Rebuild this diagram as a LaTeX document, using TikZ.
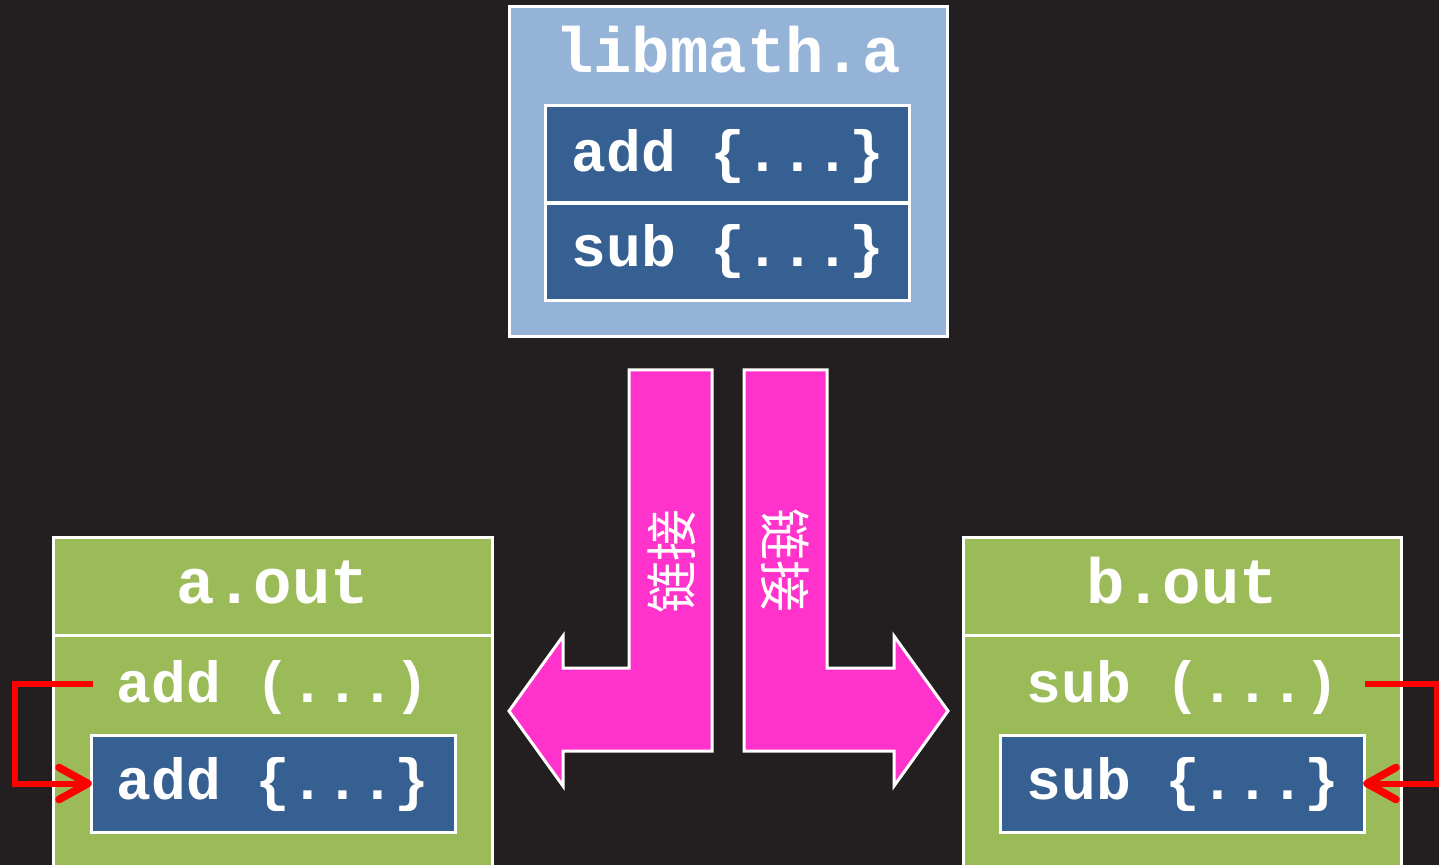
\documentclass[tikz,border=0pt]{standalone}
\usepackage{fontspec}
\setmonofont{Liberation Mono}
\newfontfamily\cjk{Noto Sans CJK SC}
\definecolor{bgdark}{HTML}{231F20}
\definecolor{libblue}{HTML}{95B3D7}
\definecolor{fnblue}{HTML}{376092}
\definecolor{exegreen}{HTML}{9BBB59}
\definecolor{linkpink}{HTML}{FF33CC}
\definecolor{callred}{HTML}{FF0000}
\tikzset{
  box/.style={draw=white, line width=1.5pt, inner sep=0pt, outer sep=0pt, rectangle},
  fnbox/.style={box, fill=fnblue, minimum width=182pt, minimum height=48.5pt},
  title/.style={text=white, font=\ttfamily\bfseries\fontsize{32}{36}\selectfont, inner sep=0pt, anchor=base},
  item/.style={text=white, font=\ttfamily\bfseries\fontsize{29}{34}\selectfont, inner sep=0pt, anchor=base west},
  linkarrow/.style={fill=linkpink, draw=white, line width=1.5pt, line join=miter},
  linklabel/.style={text=white, font=\cjk\fontsize{26}{30}\selectfont, inner sep=0pt},
  callline/.style={draw=callred, line width=3pt},
  callhead/.style={draw=callred, line width=3.8pt, line cap=round, line join=round}
}
\begin{document}
\begin{tikzpicture}[x=0.5pt,y=-0.5pt]
\useasboundingbox (0,0) rectangle (1439,865);
\fill[bgdark] (0,0) rectangle (1439,865);

% static library with its two object functions
\node[box, fill=libblue, minimum width=219pt, minimum height=165pt] (lib) at (728,172) {};
\node[title] (libname) at (728,73) {libmath.a};
\node[fnbox] (libadd) at (727.5,154) {};
\node[fnbox] (libsub) at (727.5,252) {};
\node[item] (libaddtxt) at (571,172) {add \{...\}};
\node[item] (libsubtxt) at (571,267) {sub \{...\}};

% linking arrows
\draw[linkarrow] (629,370) -- (712,370) -- (712,751) -- (563,751) -- (563,786)
  -- (509,711) -- (563,636) -- (563,668) -- (629,668) -- cycle;
\draw[linkarrow] (827,370) -- (744,370) -- (744,751) -- (894,751) -- (894,786)
  -- (948,711) -- (894,636) -- (894,668) -- (827,668) -- cycle;
\node[linklabel, rotate=90] (linkl) at (672,561) {链接};
\node[linklabel, rotate=-90] (linkr) at (785,561) {链接};

% executable a.out
\node[box, fill=exegreen, minimum width=219.5pt, minimum height=181.5pt] (aout) at (272.5,718.5) {};
\draw[white, line width=1.5pt] (53,635) -- (492,635);
\node[title] (aname) at (273,603) {a.out};
\node[item] (aref) at (116,702) {add (...)};
\node[fnbox] (aadd) at (273,783.5) {};
\node[item] (aaddtxt) at (116,799) {add \{...\}};
\coordinate (acall) at (93,684);
\coordinate (atip) at ([xshift=-1.5pt]aadd.west);
\draw[callline] (acall) -- (15,684) |- ([xshift=-2pt]atip);
\draw[callhead] ([shift={(-29,-16)}]atip) -- (atip) -- ([shift={(-29,16)}]atip);

% executable b.out
\node[box, fill=exegreen, minimum width=219pt, minimum height=181.5pt] (bout) at (1182,718.5) {};
\draw[white, line width=1.5pt] (963,635) -- (1401,635);
\node[title] (bname) at (1182,603) {b.out};
\node[item] (bref) at (1026,702) {sub (...)};
\node[fnbox] (bsub) at (1182,783.5) {};
\node[item] (bsubtxt) at (1026,799) {sub \{...\}};
\coordinate (bcall) at (1365,684);
\coordinate (btip) at ([xshift=1.5pt]bsub.east);
\draw[callline] (bcall) -- (1437,684) |- ([xshift=2pt]btip);
\draw[callhead] ([shift={(29,-16)}]btip) -- (btip) -- ([shift={(29,16)}]btip);
\end{tikzpicture}
\end{document}
